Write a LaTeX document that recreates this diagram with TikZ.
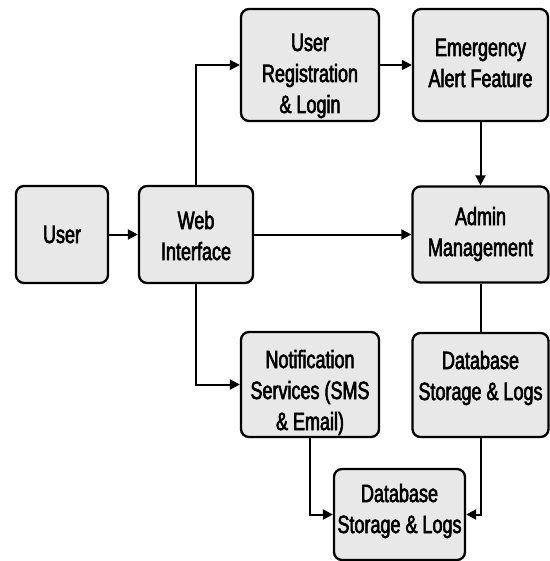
\documentclass[tikz,border=0pt]{standalone}
\usepackage{fontspec}
\setmainfont[FakeStretch=0.72,FakeBold=2.4]{Liberation Sans}
\usepackage{tikz}
\usetikzlibrary{positioning,arrows.meta}
\definecolor{boxgray}{HTML}{E8E8E8}
\tikzset{block/.style n args={3}{
		draw=black, fill=boxgray, line width=2.3pt, rounded corners=8pt,
		minimum width=#1pt, minimum height=#2pt, inner sep=0pt,
		text height=#3pt, text depth=0pt,
		align=center, font=\fontsize{25}{31}\selectfont
	},
	link/.style={line width=2pt, -{Triangle[length=10pt,width=10pt]}}
}
\begin{document}
\begin{tikzpicture}[x=1pt, y=-1pt]
		\useasboundingbox (0,0) rectangle (549,561);
		
		\node[block={92}{97}{17}] (user) at (62,234.5) {User};
		\node[block={114}{97}{51}] (web) at (196,234.5) {Web\\Interface};
		\node[block={138}{112}{96}] (reg) at (310,65) {User\\Registration\\\& Login};
		\node[block={135}{112}{44}] (alert) at (480.5,65) {Emergency\\Alert Feature};
		\node[block={136}{96}{43}] (admin) at (480.5,234.5) {Admin\\Management};
		\node[block={138}{105}{91}] (notif) at (310,384.5) {Notification\\Services (SMS\\\& Email)};
		\node[block={136}{104}{30}] (dbr) at (480.5,385) {Database\\Storage \& Logs};
		\node[block={131}{91}{37}] (dbb) at (399.5,514.5) {Database\\Storage \& Logs};
		
		\draw[link] (user) -- (web);
		\draw[link] (web.north) |- (reg.west);
		\draw[link] (web) -- (admin);
		\draw[link] (web.south) |- (notif.west);
		\draw[link] (reg) -- (alert);
		\draw[link] (alert) -- (admin);
		\draw[line width=2pt] (admin) -- (dbr);
		\draw[link] (notif.south) |- (dbb.west);
		\draw[link] (dbr.south) |- (dbb.east);
	\end{tikzpicture}
\end{document}
